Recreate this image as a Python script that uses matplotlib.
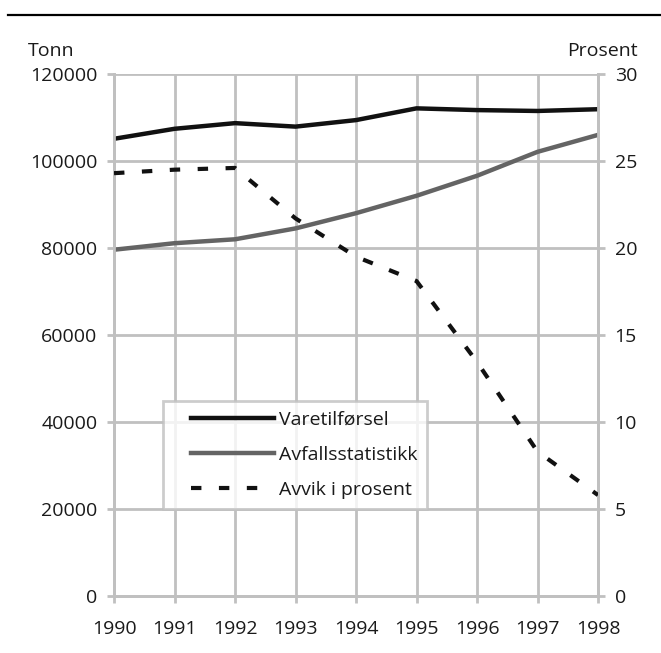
import matplotlib.pyplot as plt
from matplotlib.lines import Line2D
from matplotlib.legend_handler import HandlerLine2D

plt.rcParams['font.family'] = ['Open Sans', 'DejaVu Sans']

years = [1990, 1991, 1992, 1993, 1994, 1995, 1996, 1997, 1998]
varetilforsel = [105100, 107400, 108700, 107900, 109400, 112100, 111700, 111500, 111900]
avfall = [79600, 81100, 82000, 84500, 88000, 92000, 96600, 102100, 106000]
avvik = [24.3, 24.5, 24.6, 21.7, 19.5, 18.1, 13.45, 8.3, 5.8]

GRID = '#c0c0c0'
TXT = '#1a1a1a'
FS = 14
DASH = (0, (2.5, 4.2))

fig = plt.figure(figsize=(6.61, 6.53), dpi=100)
ax = fig.add_axes([0.1725, 0.0873, 0.7322, 0.7994])
ax2 = ax.twinx()

ax.plot(years, varetilforsel, color='#111111', lw=3.2, zorder=3)
ax.plot(years, avfall, color='#646464', lw=3.2, zorder=3)
ax2.plot(years, avvik, color='#111111', lw=3.0, linestyle=DASH, zorder=3)

ax.set_xlim(1990, 1998)
ax.set_ylim(0, 120000)
ax2.set_ylim(0, 30)
ax.set_xticks(years)
ax.set_yticks(range(0, 120001, 20000))
ax2.set_yticks(range(0, 31, 5))

ax.grid(True, color=GRID, lw=2)
ax.set_axisbelow(True)
for a in (ax, ax2):
    for s in a.spines.values():
        s.set_color(GRID)
        s.set_linewidth(2)
    a.spines['top'].set_visible(False)
    a.tick_params(colors=GRID, labelcolor=TXT, labelsize=FS, width=2, length=5, pad=7)
ax.tick_params(axis='x', pad=12)

# axis titles above the tick labels, in pixels from the bottom-left
ax.text(28, 597, 'Tonn', transform=None, fontsize=FS, color=TXT, ha='left', va='baseline')
ax.text(638, 597, 'Prosent', transform=None, fontsize=FS, color=TXT, ha='right', va='baseline')

handles = [Line2D([], [], color='#111111', lw=3.2),
           Line2D([], [], color='#646464', lw=3.2),
           Line2D([], [], color='#111111', lw=3.0, linestyle=DASH)]
labels = ['Varetilførsel', 'Avfallsstatistikk', 'Avvik i prosent']
hmap = {h: HandlerLine2D(xpad=0.94) for h in handles}
leg = ax2.legend(handles, labels, handler_map=hmap, loc='lower left',
                 bbox_to_anchor=(0.101, 0.1667), fontsize=FS, frameon=True,
                 fancybox=False, handlelength=5.2, handletextpad=0.25,
                 borderpad=0.5, borderaxespad=0, labelspacing=0.89)
leg.get_frame().set_edgecolor(GRID)
leg.get_frame().set_linewidth(2)
for t in leg.get_texts():
    t.set_color(TXT)

fig.add_artist(Line2D([8, 661], [638.5, 638.5], color='black', lw=1.6, transform=None))

fig.savefig('out.png', dpi=100)
